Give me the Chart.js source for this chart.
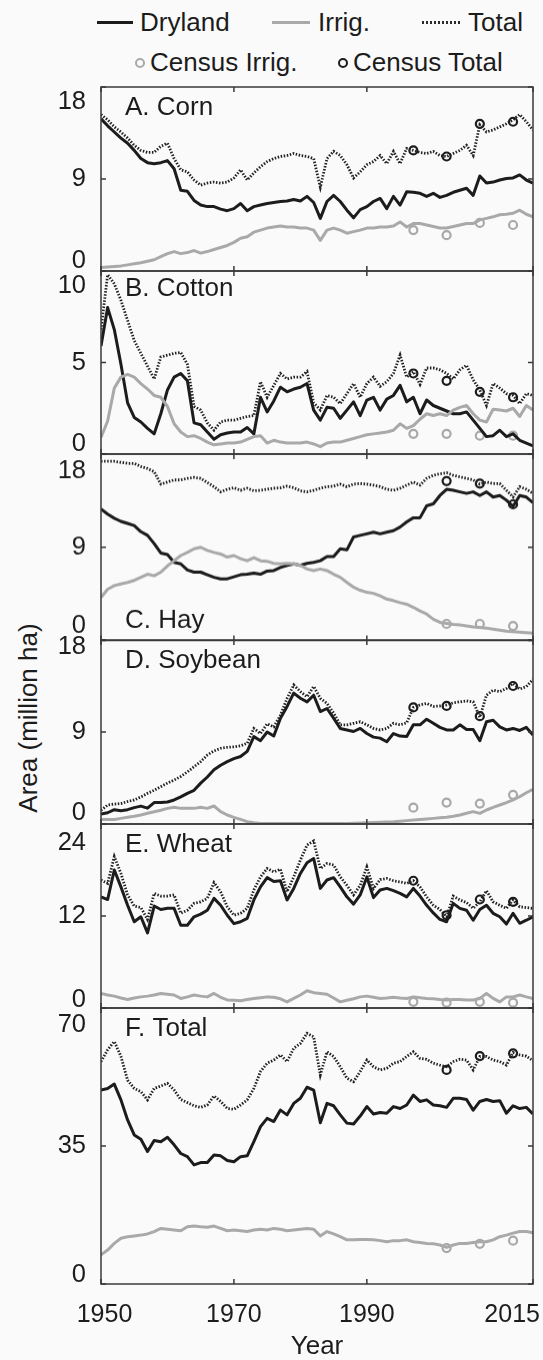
<!DOCTYPE html>
<html><head><meta charset="utf-8">
<script src="https://cdn.jsdelivr.net/npm/chart.js@4.4.0/dist/chart.umd.min.js"></script>
<style>
html,body{margin:0;padding:0;background:#fafafa;}
#wrap{position:relative;width:543px;height:1360px;overflow:hidden;font-family:"Liberation Sans",Arial,sans-serif;color:#1c1c1c;}
.pc{position:absolute;left:0;width:543px;}
.lt{position:absolute;font-size:26px;line-height:30px;height:30px;white-space:nowrap;}
.ln{position:absolute;height:3px;}
.cm{position:absolute;width:6px;height:6px;border-radius:50%;border:2px solid;background:transparent;}
#ytitle{position:absolute;left:-122px;top:703px;width:300px;text-align:center;font-size:26px;line-height:30px;transform:rotate(-90deg);white-space:nowrap;}
</style></head>
<body>
<div id="wrap">
  <div class="ln" style="left:97px;top:21px;width:36px;background:#1c1c1c"></div>
  <div class="lt" style="left:140px;top:7px">Dryland</div>
  <div class="ln" style="left:272px;top:21px;width:38px;background:#a9a9a9"></div>
  <div class="lt" style="left:318px;top:7px">Irrig.</div>
  <div class="ln" style="left:422px;top:21px;width:40px;background:repeating-linear-gradient(90deg,#2a2a2a 0 2px,transparent 2px 4px)"></div>
  <div class="lt" style="left:468px;top:7px">Total</div>
  <div class="cm" style="left:135px;top:58px;border-color:#a9a9a9"></div>
  <div class="lt" style="left:150px;top:47px">Census Irrig.</div>
  <div class="cm" style="left:338px;top:58px;border-color:#1c1c1c"></div>
  <div class="lt" style="left:353px;top:47px">Census Total</div>
  <div id="ytitle">Area (million ha)</div>
</div>
<script>
const years = [1950,1951,1952,1953,1954,1955,1956,1957,1958,1959,1960,1961,1962,1963,1964,1965,1966,1967,1968,1969,1970,1971,1972,1973,1974,1975,1976,1977,1978,1979,1980,1981,1982,1983,1984,1985,1986,1987,1988,1989,1990,1991,1992,1993,1994,1995,1996,1997,1998,1999,2000,2001,2002,2003,2004,2005,2006,2007,2008,2009,2010,2011,2012,2013,2014,2015];
const censusYears = [1997,2002,2007,2012];
const xTickValues = [1950,1970,1990,2015];
const xTickLabels = ['1950','1970','1990','2015'];

const cornDry = [14.9,14.2,13.6,13.0,12.5,11.8,11.0,10.6,10.5,10.6, 10.8,10.0,7.9,7.8,6.9,6.45,6.3,6.3,6.05,5.9, 6.1,6.6,5.9,6.3,6.45,6.6,6.7,6.8,6.85,7.0, 6.85,7.3,6.7,5.15,6.8,7.4,6.8,5.95,5.2,6.0, 6.3,6.8,7.1,6.1,7.3,6.45,7.75,7.7,7.6,7.3, 7.6,7.2,7.4,7.7,7.9,8.1,7.4,9.3,8.6,8.7, 8.9,9.05,9.1,9.4,8.9,8.6];
const cornIrr = [0.35,0.4,0.45,0.5,0.6,0.7,0.8,0.95,1.1,1.4, 1.7,1.9,1.7,1.8,2.0,1.75,1.9,2.1,2.3,2.5, 2.8,3.2,3.35,3.8,4.0,4.2,4.3,4.4,4.3,4.3, 4.2,4.2,4.0,3.0,4.0,4.2,4.0,3.7,3.85,4.0, 4.2,4.2,4.3,4.3,4.4,4.8,4.3,4.65,4.65,4.5, 4.35,4.2,4.2,4.35,4.5,4.65,4.65,5.0,5.15,5.3, 5.5,5.55,5.65,5.95,5.55,5.3];
const cornTotal = [15.3,14.8,14.1,13.6,13.0,12.3,11.8,11.6,11.6,12.2, 12.5,11.0,9.9,9.7,8.9,8.4,8.6,8.7,8.6,8.7, 9.1,9.9,8.9,9.6,10.2,10.7,11.0,11.2,11.3,11.5, 11.3,11.2,11.0,8.2,11.0,11.7,11.3,10.4,9.1,9.7, 10.4,10.7,11.3,10.5,11.7,10.5,12.0,11.8,11.6,11.5, 11.7,11.3,11.2,11.5,11.8,12.3,11.3,14.3,13.6,13.8, 14.1,14.4,14.8,15.3,14.6,13.8];
const cornCensusIrr = [4.0,3.5,4.7,4.5];
const cornCensusTotal = [11.8,11.2,14.4,14.6];

const cottonDry = [5.9,8.0,6.8,4.9,2.8,2.0,1.75,1.4,1.1,2.2, 3.5,4.2,4.4,4.0,1.7,1.6,1.2,0.8,1.05,1.15, 1.2,1.2,1.45,1.1,3.1,2.3,2.9,3.65,3.4,3.55, 3.65,3.85,2.4,1.85,2.55,2.5,1.95,2.4,2.85,2.1, 2.95,3.1,2.4,3.0,3.2,3.75,2.85,3.1,2.2,2.95, 2.65,2.5,2.35,2.2,2.2,2.3,1.85,1.4,0.95,1.0, 1.3,0.95,1.1,0.75,0.6,0.45];
const cottonIrr = [0.9,1.8,3.6,4.2,4.35,4.2,3.85,3.55,3.2,3.1, 2.6,1.65,1.2,0.95,1.0,0.85,0.65,0.5,0.55,0.6, 0.6,0.65,0.8,0.95,1.0,0.6,0.75,0.65,0.6,0.6, 0.6,0.65,0.55,0.4,0.6,0.65,0.65,0.75,0.85,0.95, 1.05,1.1,1.15,1.2,1.3,1.65,1.4,1.55,1.9,2.2, 2.1,2.2,2.1,2.4,2.55,2.65,2.2,1.85,1.75,2.45, 2.4,2.35,2.5,2.05,2.65,2.4];
const cottonTotal = [6.8,9.8,9.3,8.4,7.3,6.2,5.5,4.8,4.1,5.3, 5.4,5.5,5.55,4.9,2.6,2.4,1.7,1.3,1.75,1.85, 1.85,1.95,2.05,2.1,3.95,3.1,3.75,4.4,4.1,4.2, 4.2,4.5,2.8,2.4,3.2,3.1,2.75,3.3,3.85,3.1, 3.85,4.2,3.7,3.95,4.4,5.4,4.2,4.5,3.8,4.7, 4.7,4.6,4.4,4.1,4.6,4.85,4.05,3.5,2.65,3.85, 3.6,3.3,3.2,2.75,3.3,3.2];
const cottonCensusIrr = [1.1,1.1,1.0,1.0];
const cottonCensusTotal = [4.4,4.0,3.4,3.1];

const hayDry = [12.7,12.2,11.8,11.5,11.3,11.1,10.5,10.15,9.35,8.45, 8.3,7.55,7.4,6.8,6.6,6.6,6.35,6.1,5.95,5.95, 6.15,6.35,6.4,6.5,6.4,6.7,6.75,7.05,7.25,7.4, 7.25,7.45,7.55,7.7,8.1,8.1,8.85,8.75,10.0,10.15, 10.3,10.45,10.3,10.45,10.6,10.95,11.45,11.85,11.85,13.0, 13.2,14.0,14.6,14.5,14.35,14.2,14.35,14.0,14.35,13.85, 14.0,13.55,12.95,14.0,13.85,13.3];
const hayIrr = [4.15,4.95,5.3,5.45,5.6,5.8,6.1,6.4,6.25,6.6, 7.2,7.7,8.2,8.5,8.85,9.0,8.7,8.5,8.35,8.05, 8.2,7.9,7.7,8.0,7.7,7.65,7.45,7.4,7.45,7.4, 7.25,6.9,6.75,6.9,6.75,6.4,6.1,5.6,5.15,4.85, 4.65,4.55,4.3,4.0,3.85,3.65,3.5,3.2,2.85,2.55, 2.05,1.75,1.65,1.55,1.5,1.4,1.3,1.25,1.2,1.1, 1.0,0.9,0.85,0.8,0.75,0.7];
const hayTotal = [17.3,17.3,17.3,17.2,17.1,17.1,16.8,16.6,16.3,15.1, 15.3,15.5,15.5,15.65,15.75,15.65,15.25,14.85,14.35,14.6, 14.75,14.5,14.7,14.45,14.5,14.6,14.7,14.75,14.9,14.75, 14.45,14.35,14.5,14.7,14.85,14.9,15.1,14.85,15.1,15.15, 15.1,15.0,14.85,14.6,14.5,14.7,15.0,15.3,15.0,15.65, 15.95,16.1,16.2,15.95,15.8,15.65,15.5,15.1,15.3,15.15, 15.15,14.5,13.85,14.85,14.6,14.2];
const hayCensusIrr = [null,1.6,1.6,1.4];
const hayCensusTotal = [null,15.4,15.15,13.15];

const soyDry = [0.98,1.1,1.4,1.3,1.4,1.6,1.75,1.55,2.1,2.1, 2.15,2.35,2.65,3.0,3.3,4.0,4.6,5.3,5.75,6.1, 6.4,6.6,7.1,8.55,8.15,9.0,8.6,10.35,11.5,12.8, 12.3,11.95,12.6,11.0,11.3,10.35,9.35,9.2,9.05,9.35, 8.85,8.5,8.4,8.05,8.85,8.6,8.55,9.7,9.7,10.25, 9.85,9.45,9.2,9.2,9.7,9.25,9.25,8.15,10.0,10.15, 9.5,9.2,9.35,9.15,9.45,8.7];
const soyIrr = [0.45,0.45,0.45,0.55,0.65,0.75,0.88,1.05,1.2,1.35, 1.53,1.63,1.53,1.53,1.53,1.63,1.53,1.76,1.21,0.88, 0.65,0.45,0.23,0.13,0.06,0.05,0.05,0.05,0.05,0.05, 0.05,0.05,0.05,0.05,0.05,0.05,0.05,0.06,0.08,0.1, 0.12,0.15,0.18,0.2,0.23,0.28,0.33,0.38,0.45,0.5, 0.55,0.6,0.65,0.75,0.88,1.05,1.21,1.04,1.37,1.63, 1.86,2.09,2.35,2.67,3.06,3.39];
const soyTotal = [1.35,1.85,1.95,2.0,2.2,2.35,2.65,3.0,3.3,3.65, 4.0,4.3,4.65,5.1,5.6,6.1,6.75,7.15,7.4,7.5, 7.55,7.65,7.9,9.35,8.85,9.8,9.5,10.65,12.3,13.6, 12.95,12.45,13.45,12.3,11.8,10.85,9.7,9.7,9.85,10.0, 9.7,9.35,9.2,9.35,9.85,9.7,9.9,11.4,11.65,11.8, 11.5,11.55,11.65,11.85,11.95,12.05,11.95,10.45,12.6,13.1, 12.95,13.25,13.75,13.2,13.45,14.15];
const soyCensusIrr = [1.6,2.1,2.0,2.85];
const soyCensusTotal = [11.4,11.55,10.55,13.5];

const wheatDry = [14.5,14.15,18.0,15.8,13.4,11.25,11.9,9.8,13.3,12.85, 13.0,13.0,10.8,10.8,11.9,12.25,12.75,14.3,13.4,12.1, 11.0,11.25,11.7,14.1,15.8,17.0,16.5,16.6,14.1,15.6, 17.55,18.95,19.5,15.6,16.7,17.0,15.8,14.5,13.55,14.75, 17.1,14.4,15.4,15.6,15.3,14.95,14.5,15.6,14.6,13.4, 12.4,11.55,11.25,13.65,13.0,12.75,11.45,12.85,13.4,12.35, 11.9,10.95,12.35,11.05,11.45,11.9];
const wheatIrr = [1.9,1.7,1.55,1.3,1.1,1.3,1.45,1.55,1.7,1.9, 1.8,1.7,1.25,1.45,1.7,1.55,1.45,1.9,1.4,1.05, 1.0,0.95,1.1,1.25,1.35,1.45,1.4,1.2,0.8,1.25, 1.7,2.25,2.0,1.9,1.8,1.3,0.8,1.0,1.2,1.45, 1.55,1.4,1.25,1.3,1.4,1.3,1.25,1.45,1.35,1.25, 1.2,1.1,1.05,1.1,1.1,1.05,1.05,1.25,1.9,1.25, 0.8,1.45,1.45,1.7,1.45,1.25];
const wheatTotal = [16.7,16.25,19.75,17.55,14.75,13.3,13.1,11.55,14.95,14.6, 14.6,14.75,12.35,12.75,13.65,13.85,14.3,16.35,15.15,13.2, 12.1,12.35,13.0,15.4,17.1,18.2,17.75,18.1,15.15,17.1, 19.3,21.25,21.8,18.2,18.85,18.65,17.1,16.0,14.75,16.0, 18.4,15.6,16.75,16.9,16.6,16.45,16.25,16.6,15.8,14.5, 13.4,12.85,11.9,14.6,14.1,13.75,13.0,13.85,15.3,13.85, 13.4,13.0,14.1,13.2,13.1,13.0];
const wheatCensusIrr = [0.8,0.7,0.8,0.7];
const wheatCensusTotal = [16.6,12.1,14.15,13.85];

const allDry = [49.2,49.6,50.7,46.7,41.6,37.8,36.7,33.6,36.4,36.1, 37.2,35.3,33.1,32.3,30.2,30.8,30.8,32.7,32.5,31.3, 31.0,32.3,32.5,36.1,39.9,42.0,41.2,44.1,42.9,45.8, 47.1,49.9,49.2,40.9,45.8,45.2,42.9,40.8,40.6,42.6, 45.0,43.1,43.5,43.3,45.0,44.5,45.4,47.9,46.3,46.7, 45.4,45.2,44.8,47.1,47.1,46.8,44.1,46.3,46.8,46.3, 46.5,43.3,45.2,44.5,44.8,43.1];
const allIrr = [7.4,8.6,10.3,11.6,12.0,12.2,12.4,12.7,13.3,14.1, 13.9,13.7,13.5,14.5,14.7,14.5,14.4,14.7,14.1,13.5, 13.7,13.5,13.3,13.7,13.9,13.7,14.1,13.9,13.5,13.7, 13.9,14.1,13.9,12.2,13.3,12.7,12.0,11.2,11.2,11.3, 11.3,11.2,11.0,10.7,11.0,11.0,11.2,10.7,10.5,10.3, 10.2,9.9,9.3,9.9,10.3,10.3,10.5,10.7,10.7,11.2, 12.0,12.4,12.9,13.3,13.3,13.0];
const allTotal = [56.4,59.4,61.5,57.7,51.7,49.6,48.8,46.7,49.6,50.2, 50.9,49.2,46.8,46.0,45.2,44.8,45.4,47.7,46.3,44.5, 44.3,45.4,46.7,49.6,53.9,56.0,56.8,58.1,56.4,59.8, 61.0,63.6,62.7,53.0,58.9,57.7,55.1,52.2,51.3,53.9, 56.8,55.1,54.3,54.7,56.0,56.4,57.7,58.9,57.2,57.0, 56.0,55.5,55.1,56.4,57.0,56.8,54.3,57.7,57.7,56.8, 56.4,55.5,58.7,58.1,57.8,56.6];
const allCensusIrr = [null,9.1,10.2,11.0];
const allCensusTotal = [null,54.3,57.8,58.5];

const panelTitles = ['A. Corn','B. Cotton','C. Hay','D. Soybean','E. Wheat','F. Total'];
const yTickSets = [[0,9,18],[0,5,10],[0,9,18],[0,9,18],[0,12,24],[0,35,70]];

// layout (page pixels)
const FONT = '"Liberation Sans", Arial, sans-serif';
const INK = '#1c1c1c', GRAY = '#a9a9a9', FRAME = '#3a3a3a';
const PAD = 8;
const layoutSpec = [
  {top:87,  bottom:271,  shift:[10,15], titleAtBottom:false, titleOff:18.5},
  {top:271, bottom:454,  shift:[10,15], titleAtBottom:false, titleOff:16},
  {top:454, bottom:639.5,shift:[15,17], titleAtBottom:true,  titleOff:21.5},
  {top:640, bottom:824,  shift:[11,7],  titleAtBottom:false, titleOff:19},
  {top:824, bottom:1008, shift:[8,19],  titleAtBottom:false, titleOff:18.5},
  {top:1008,bottom:1284, shift:[9,17],  titleAtBottom:false, titleOff:19}
];
const seriesSets = [
  [cornDry,cornIrr,cornTotal,cornCensusIrr,cornCensusTotal],
  [cottonDry,cottonIrr,cottonTotal,cottonCensusIrr,cottonCensusTotal],
  [hayDry,hayIrr,hayTotal,hayCensusIrr,hayCensusTotal],
  [soyDry,soyIrr,soyTotal,soyCensusIrr,soyCensusTotal],
  [wheatDry,wheatIrr,wheatTotal,wheatCensusIrr,wheatCensusTotal],
  [allDry,allIrr,allTotal,allCensusIrr,allCensusTotal]
];

const panelDecor = {
  id: 'panelDecor',
  afterDatasetsDraw(chart, args, opts) {
    const {ctx, chartArea: a, scales: {x, y}} = chart;
    ctx.save();
    ctx.strokeStyle = FRAME;
    ctx.lineWidth = 1.5;
    ctx.strokeRect(a.left, a.top, a.right - a.left, a.bottom - a.top);
    const L = 5;
    ctx.beginPath();
    x.ticks.forEach(t => {
      const px = x.getPixelForValue(t.value);
      ctx.moveTo(px, a.bottom); ctx.lineTo(px, a.bottom - L);
      ctx.moveTo(px, a.top); ctx.lineTo(px, a.top + L);
    });
    y.ticks.forEach(t => {
      const py = y.getPixelForValue(t.value);
      ctx.moveTo(a.left, py); ctx.lineTo(a.left + L, py);
      ctx.moveTo(a.right, py); ctx.lineTo(a.right - L, py);
    });
    ctx.stroke();
    ctx.fillStyle = INK;
    ctx.font = '26px ' + FONT;
    ctx.textBaseline = 'alphabetic';
    const capMid = opts.atBottom ? a.bottom - opts.off : a.top + opts.off;
    ctx.fillText(opts.title, a.left + 24, capMid + 0.358 * 26);
    ctx.restore();
  }
};

const wrap = document.getElementById('wrap');
layoutSpec.forEach((L, i) => {
  const isLast = i === layoutSpec.length - 1;
  const [dry, irr, tot, cIrr, cTot] = seriesSets[i];
  const ticksY = yTickSets[i];
  const div = document.createElement('div');
  div.className = 'pc';
  const canvasTop = L.top - PAD;
  const canvasH = isLast ? 1360 - canvasTop : (L.bottom - L.top) + 2 * PAD;
  div.style.top = canvasTop + 'px';
  div.style.height = canvasH + 'px';
  const cv = document.createElement('canvas');
  div.appendChild(cv);
  wrap.appendChild(div);

  const line = (arr) => years.map((yr, k) => ({x: yr, y: arr[k]}));
  const pts = (arr) => censusYears.map((yr, k) => ({x: yr, y: arr[k]}));

  new Chart(cv, {
    type: 'line',
    data: {
      datasets: [
        {label: 'Irrig.', data: line(irr), borderColor: GRAY, borderWidth: 3, pointRadius: 0, tension: 0, borderJoinStyle: 'round'},
        {label: 'Dryland', data: line(dry), borderColor: INK, borderWidth: 3, pointRadius: 0, tension: 0, borderJoinStyle: 'round'},
        {label: 'Total', data: line(tot), borderColor: '#222222', borderWidth: 2.8, borderDash: [1.5, 1.6], pointRadius: 0, tension: 0},
        {label: 'Census Irrig.', data: pts(cIrr), showLine: false, pointRadius: 4, pointBorderWidth: 2.2, pointBorderColor: GRAY, pointBackgroundColor: 'rgba(0,0,0,0)', clip: false},
        {label: 'Census Total', data: pts(cTot), showLine: false, pointRadius: 4, pointBorderWidth: 2.2, pointBorderColor: INK, pointBackgroundColor: 'rgba(0,0,0,0)', clip: false}
      ]
    },
    options: {
      responsive: true,
      maintainAspectRatio: false,
      animation: false,
      devicePixelRatio: 1,
      events: [],
      layout: {padding: {left: 0, right: 10, top: PAD, bottom: isLast ? 0 : PAD}},
      plugins: {
        legend: {display: false},
        tooltip: {enabled: false},
        panelDecor: {title: panelTitles[i], atBottom: L.titleAtBottom, off: L.titleOff}
      },
      scales: {
        x: {
          type: 'linear', min: 1950, max: 2015,
          afterBuildTicks: s => { s.ticks = xTickValues.map(v => ({value: v})); },
          afterFit: s => { s.paddingLeft = 0; s.paddingRight = 0; s.paddingTop = 0; s.paddingBottom = 0; s.height = isLast ? 76 : 0; },
          grid: {display: false, drawTicks: false},
          border: {display: false},
          ticks: {
            display: isLast, autoSkip: false, maxRotation: 0, padding: 16, color: INK,
            font: {family: FONT, size: 25},
            callback: (v, k) => k === 0 ? ' ' + xTickLabels[k] : (k === xTickLabels.length - 1 ? xTickLabels[k] + '      ' : xTickLabels[k])
          },
          title: {display: isLast, text: 'Year', color: INK, font: {family: FONT, size: 26, lineHeight: 1}, padding: {top: 0, bottom: 0}}
        },
        y: {
          type: 'linear', min: ticksY[0], max: ticksY[2],
          afterBuildTicks: s => { s.ticks = ticksY.map(v => ({value: v})); },
          afterFit: s => { s.width = 101; s.paddingTop = 0; s.paddingBottom = 0; s.paddingLeft = 0; s.paddingRight = 0; },
          grid: {display: false, drawTicks: false},
          border: {display: false},
          ticks: {
            autoSkip: false, padding: 15, color: INK,
            font: (c) => ({family: FONT, size: 25.5, lineHeight: c.index === 0 ? (2 * L.shift[0]) + 'px' : (c.index === 2 ? (2 * L.shift[1]) + 'px' : 1.2)}),
            callback: (v, k) => k === 0 ? [String(ticksY[0]), ''] : (k === 2 ? ['', String(ticksY[2])] : String(ticksY[1]))
          }
        }
      }
    },
    plugins: [panelDecor]
  });
});
</script>
</body></html>
